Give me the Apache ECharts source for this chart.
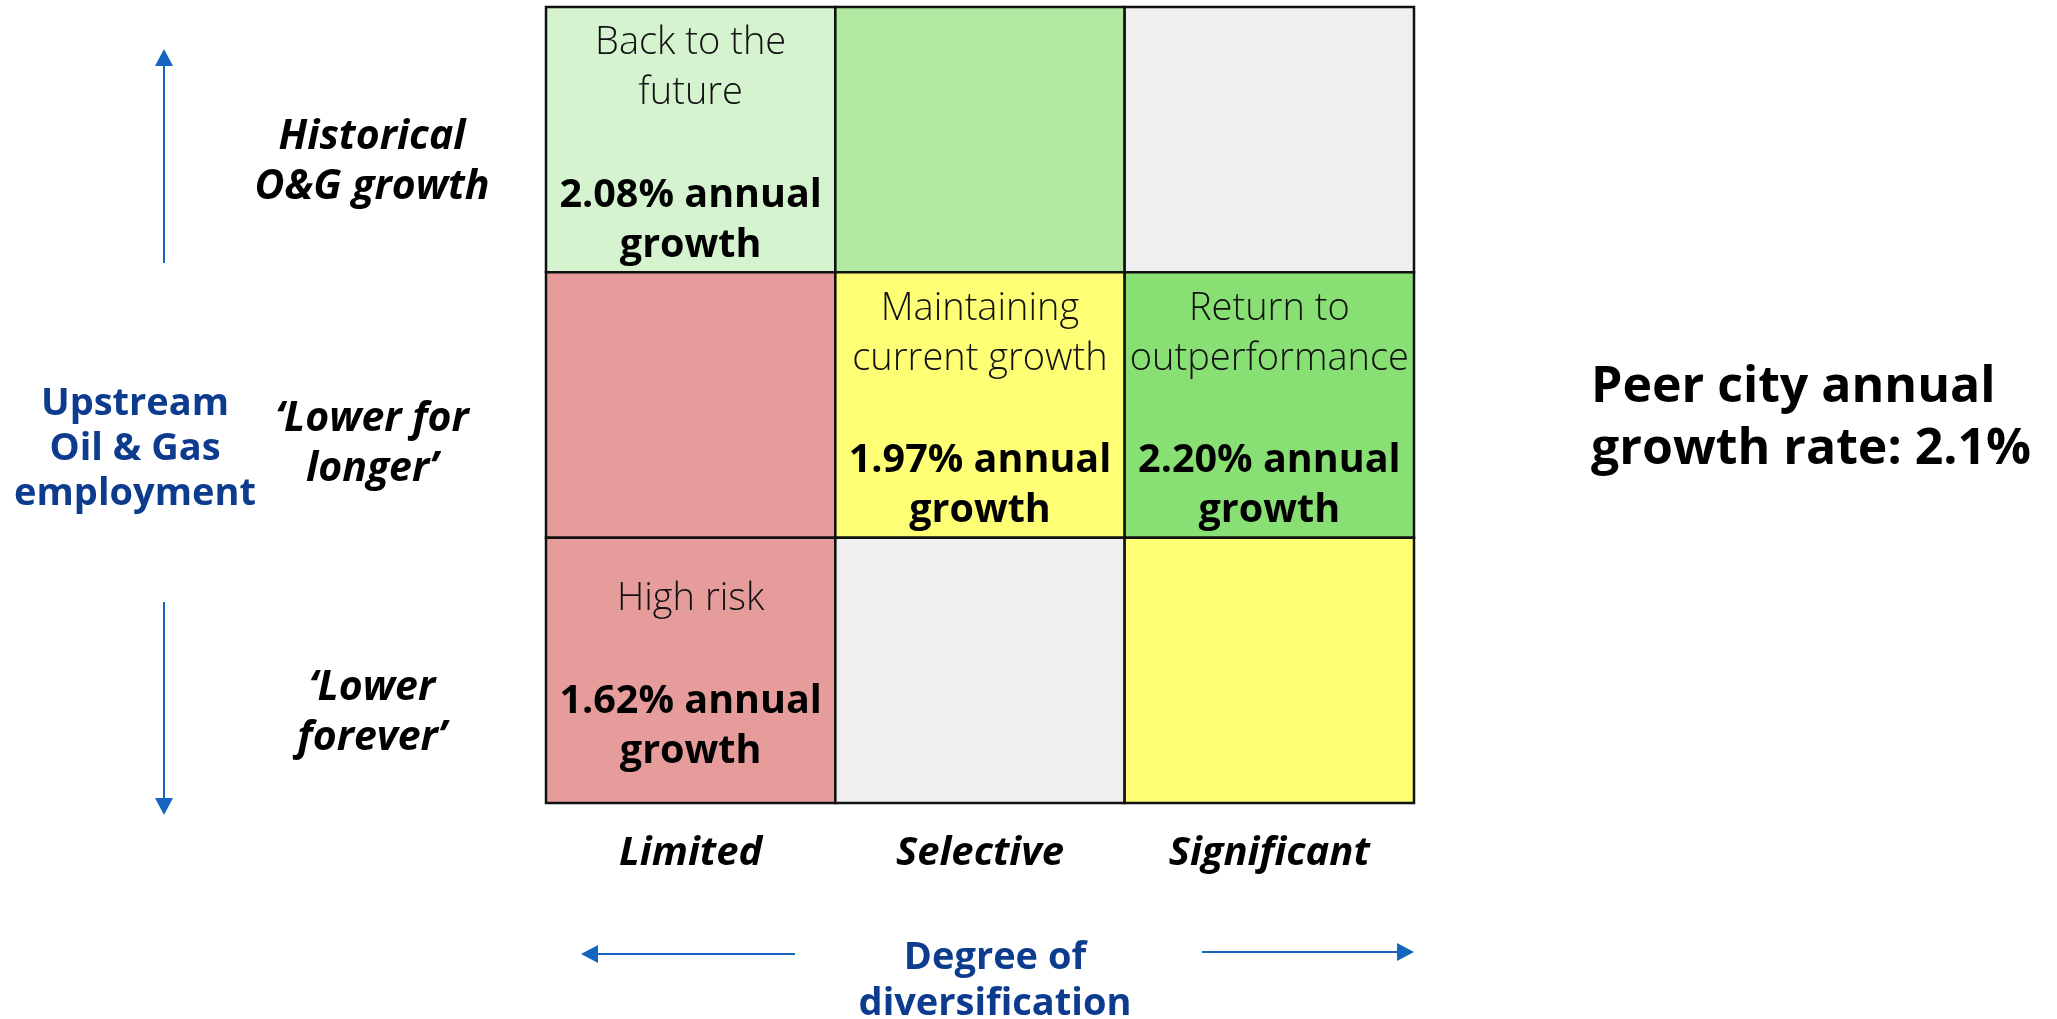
<!DOCTYPE html>
<html>
<head>
<meta charset="utf-8">
<style>
  html, body { margin: 0; padding: 0; background: #fff; }
  #main { width: 2057px; height: 1019px; }
</style>
<script src="https://cdn.jsdelivr.net/npm/echarts@6/dist/echarts.min.js"></script>
</head>
<body>
<div id="main"></div>
<script>
// 分类
var diversification = ['Limited', 'Selective', 'Significant'];
var scenarios = ['‘Lower\nforever’', '‘Lower for\nlonger’', 'Historical\nO&G growth'];

// 每个格子: [多元化程度, 情景, 名称, 年增长率 %]
var cells = [
    [0, 2, 'Back to the\nfuture', 2.08],
    [1, 2, '', null],
    [2, 2, '', null],
    [0, 1, '', null],
    [1, 1, 'Maintaining\ncurrent growth', 1.97],
    [2, 1, 'Return to\noutperformance', 2.20],
    [0, 0, 'High risk', 1.62],
    [1, 0, '', null],
    [2, 0, '', null]
];
var cellColors = [
    '#d6f3d0', '#b1e9a1', '#efefef',
    '#e79c9c', '#ffff75', '#88df73',
    '#e79c9c', '#efefef', '#ffff75'
];
var peerGrowth = 2.1;

// 样式
var FONT = '"Open Sans", Lato, sans-serif';
var BLUE = '#1565c0';
var NAVY = '#0d3b8e';
var labelShift = [43, 39, 23]; // y轴标签相对行中心向下偏移(px)

var main = echarts.init(document.getElementById('main'));

function arrow(x1, y1, x2, y2) {
    // 线 + 三角箭头, 箭头在 (x2, y2)
    var dx = x2 - x1, dy = y2 - y1;
    var len = Math.sqrt(dx * dx + dy * dy);
    var ux = dx / len, uy = dy / len;
    var h = 17, w = 9;
    var bx = x2 - ux * h, by = y2 - uy * h;
    return [
        { type: 'line', shape: { x1: x1, y1: y1, x2: bx, y2: by }, style: { stroke: BLUE, lineWidth: 2 } },
        {
            type: 'polygon',
            shape: { points: [[x2, y2], [bx - uy * w, by + ux * w], [bx + uy * w, by - ux * w]] },
            style: { fill: BLUE }
        }
    ];
}

// y轴标签: 顶部加一行空白把文字往下推
var yRich = {
    l: { width: 300, align: 'center', lineHeight: 50, fontFamily: FONT, fontSize: 41, fontWeight: 'bold', fontStyle: 'italic', color: '#000' }
};
labelShift.forEach(function (v, i) {
    yRich['s' + i] = { lineHeight: v * 2, fontSize: 2, width: 300 };
});

var option = {
    backgroundColor: '#fff',
    animation: false,
    grid: { left: 546, right: 643, top: 7, bottom: 216 },
    xAxis: {
        type: 'category',
        data: diversification,
        axisLine: { show: false },
        axisTick: { show: false },
        splitLine: { show: false },
        axisLabel: {
            margin: 51,
            verticalAlign: 'middle',
            fontFamily: FONT,
            fontSize: 40,
            fontWeight: 'bold',
            fontStyle: 'italic',
            color: '#000'
        }
    },
    yAxis: {
        type: 'category',
        data: scenarios,
        axisLine: { show: false },
        axisTick: { show: false },
        splitLine: { show: false },
        axisLabel: {
            margin: 24,
            align: 'right',
            verticalAlign: 'middle',
            formatter: function (value, index) {
                return '{s' + index + '| }\n' + value.split('\n').map(function (l) {
                    return '{l|' + l + '}';
                }).join('\n');
            },
            rich: yRich
        }
    },
    series: [{
        type: 'custom',
        data: cells.map(function (c) { return [c[0], c[1]]; }),
        encode: { x: 0, y: 1 },
        renderItem: function (params, api) {
            var c = api.coord([api.value(0), api.value(1)]);
            var s = api.size([1, 1]);
            var d = cells[params.dataIndex];
            var children = [{
                type: 'rect',
                shape: { x: c[0] - s[0] / 2, y: c[1] - s[1] / 2, width: s[0], height: s[1] },
                style: { fill: cellColors[params.dataIndex], stroke: '#111', lineWidth: 2.5 }
            }];
            if (d[2]) {
                var txt = d[2].split('\n').map(function (l) { return '{t|' + l + '}'; }).join('\n') +
                    '\n{sp| }\n{b|' + d[3].toFixed(2) + '% annual}\n{b|growth}';
                children.push({
                    type: 'text',
                    x: c[0],
                    y: c[1] + 5,
                    style: {
                        text: txt,
                        align: 'center',
                        verticalAlign: 'middle',
                        fontFamily: FONT,
                        fontSize: 38,
                        lineHeight: 50,
                        fill: '#111',
                        rich: {
                            t: { fontFamily: FONT, fontWeight: 300, fontSize: 38, lineHeight: 50, fill: '#111' },
                            sp: { fontSize: 2, lineHeight: 52 },
                            b: { fontFamily: FONT, fontWeight: 'bold', fontSize: 39.5, lineHeight: 50, fill: '#000' }
                        }
                    }
                });
            }
            return { type: 'group', children: children };
        }
    }],
    graphic: [].concat(
        arrow(164, 263, 164, 49),
        arrow(164, 602, 164, 815),
        arrow(795, 954, 581, 954),
        arrow(1202, 952, 1414, 952),
        [
            {
                type: 'text', x: 135, y: 449,
                style: {
                    text: 'Upstream\nOil & Gas\nemployment', align: 'center', verticalAlign: 'middle',
                    fontFamily: FONT, fontWeight: 'bold', fontSize: 38, lineHeight: 45, fill: NAVY
                }
            },
            {
                type: 'text', x: 995, y: 981,
                style: {
                    text: 'Degree of\ndiversification', align: 'center', verticalAlign: 'middle',
                    fontFamily: FONT, fontWeight: 'bold', fontSize: 38, lineHeight: 46, fill: NAVY
                }
            },
            {
                type: 'text', x: 1591, y: 419,
                style: {
                    text: 'Peer city annual\ngrowth rate: ' + peerGrowth.toFixed(1) + '%', align: 'left', verticalAlign: 'middle',
                    fontFamily: FONT, fontWeight: 'bold', fontSize: 50, lineHeight: 62, fill: '#000'
                }
            }
        ]
    )
};

main.setOption(option);
</script>
</body>
</html>
